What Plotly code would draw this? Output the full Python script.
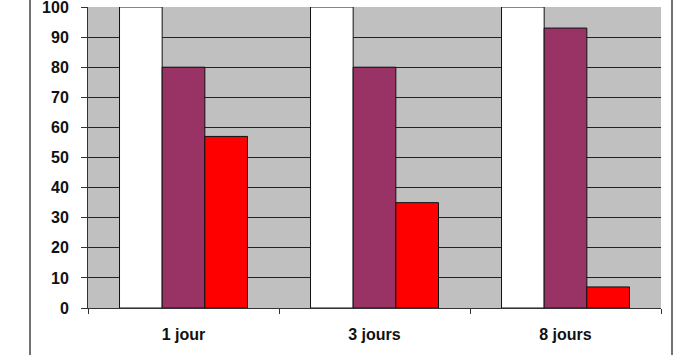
import plotly.graph_objects as go

categories = ["1 jour", "3 jours", "8 jours"]
series_a = [100, 100, 100]
series_b = [80, 80, 93]
series_c = [57, 35, 7]
y_ticks = [0, 10, 20, 30, 40, 50, 60, 70, 80, 90, 100]

fig = go.Figure()
for vals, col in [(series_a, "#ffffff"), (series_b, "#993366"), (series_c, "#ff0000")]:
    fig.add_trace(go.Bar(x=categories, y=vals, marker=dict(color=col, line=dict(color="#111111", width=1)),
                         showlegend=False))

tf = dict(family="Liberation Sans, Arial, sans-serif", size=16, color="#111111", weight="bold")
fig.update_layout(
    width=690, height=355,
    margin=dict(l=88, r=29, t=7, b=47),
    paper_bgcolor="#ffffff",
    plot_bgcolor="#c0c0c0",
    barmode="group",
    bargap=0.33,
    bargroupgap=0,
    font=tf,
    xaxis=dict(showline=True, linecolor="#333333", linewidth=1, ticks="outside", ticklen=5,
               tickcolor="#333333", tickson="boundaries", showgrid=False,
               ticklabelstandoff=12, tickfont=tf),
    yaxis=dict(range=[0, 100], tickvals=y_ticks, showline=True, linecolor="#333333", linewidth=1,
               ticks="outside", ticklen=6, tickcolor="#333333", showgrid=True, gridcolor="#222222",
               gridwidth=1, zeroline=False, ticklabelstandoff=9, tickfont=tf,
               ticklabeloverflow="allow", automargin=False),
    shapes=[
        dict(type="line", xref="paper", yref="paper", x0=-0.1012, x1=-0.1012, y0=-0.3, y1=1.1,
             line=dict(color="#444444", width=1.5)),
        dict(type="line", xref="paper", yref="paper", x0=1.0192, x1=1.0192, y0=-0.3, y1=1.1,
             line=dict(color="#444444", width=1.5)),
    ],
)
fig.write_html("out.html")
